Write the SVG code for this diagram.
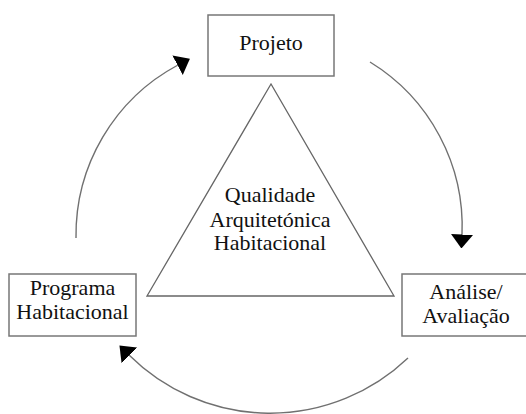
<svg xmlns="http://www.w3.org/2000/svg" width="526" height="414" viewBox="0 0 526 414">
  <style>
    .box { fill: #ffffff; stroke: #777777; stroke-width: 1.5; }
    .tri { fill: #ffffff; stroke: #666666; stroke-width: 1.3; }
    .lbl { font-family: "Liberation Serif", "DejaVu Serif", serif; font-size: 22px; fill: #111111; text-anchor: middle; }
    .arc { fill: none; stroke: #707070; stroke-width: 1.4; }
  </style>
  <defs>
    <marker id="ah" markerUnits="userSpaceOnUse" markerWidth="14" markerHeight="24" viewBox="0 0 14 24" refX="0.5" refY="12" orient="auto">
      <path d="M0,1 L14,12 L0,23 z" fill="#000000"/>
    </marker>
  </defs>
  <rect width="526" height="414" fill="#ffffff"/>

  <g id="connectors">
    <path class="arc" d="M76,238 A193,193 0 0 1 178,65" marker-end="url(#ah)"/>
    <path class="arc" d="M370,62 A193,193 0 0 1 462,235" marker-end="url(#ah)"/>
    <path class="arc" d="M408,358 A200,200 0 0 1 129,355" marker-end="url(#ah)"/>
  </g>

  <g id="qualidade">
    <polygon class="tri" points="271,84 147,296 394,296"/>
    <text class="lbl" x="270" y="202">Qualidade</text>
    <text class="lbl" x="270" y="226.5">Arquitetónica</text>
    <text class="lbl" x="270" y="250">Habitacional</text>
  </g>

  <g id="projeto">
    <rect class="box" x="208" y="15" width="126" height="61"/>
    <text class="lbl" x="271" y="50">Projeto</text>
  </g>

  <g id="programa">
    <rect class="box" x="9" y="274" width="127" height="62"/>
    <text class="lbl" x="72.5" y="295">Programa</text>
    <text class="lbl" x="72.5" y="319">Habitacional</text>
  </g>

  <g id="analise">
    <rect class="box" x="402" y="274" width="127" height="62"/>
    <text class="lbl" x="466" y="299">Análise/</text>
    <text class="lbl" x="466" y="323">Avaliação</text>
  </g>
</svg>
